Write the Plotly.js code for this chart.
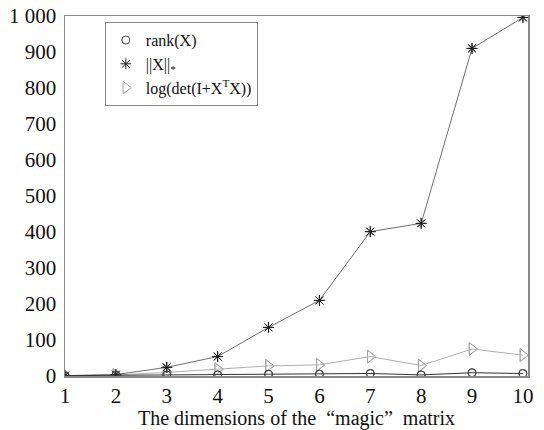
<!DOCTYPE html>
<html>
<head>
<meta charset="utf-8">
<script src="https://cdn.plot.ly/plotly-3.0.1.min.js"></script>
<style>html,body{margin:0;padding:0;background:#fff;}#chart{width:544px;height:430px;}</style>
</head>
<body>
<div id="chart"></div>
<script>
var dims = [1, 2, 3, 4, 5, 6, 7, 8, 9, 10];
var rankVals = [1, 2, 3, 3, 5, 5, 7, 3, 9, 7];
var nuclearVals = [1, 4, 24, 54, 135, 210, 401, 424, 910, 996];
var logdetVals = [0.5, 3, 10, 19, 28, 31, 54, 29, 75, 58];
var yTickVals = [0, 100, 200, 300, 400, 500, 600, 700, 800, 900, 1000];
var yTickText = ['0', '100', '200', '300', '400', '500', '600', '700', '800', '900', '1 000'];
var seriesNames = ['rank(X)', '||X||<sub>*</sub>', 'log(det(I+X<sup>T</sup>X))'];

var serif = 'Liberation Serif';

function pair(y, name, lineColor, markerColor, symbol, size) {
  return [
    {x: dims, y: y, type: 'scatter', mode: 'lines+markers', showlegend: false, hoverinfo: 'skip',
     line: {color: lineColor, width: 1},
     marker: {symbol: symbol, size: size, color: markerColor, line: {color: markerColor, width: 1}}},
    {x: dims, y: y, type: 'scatter', mode: 'markers', name: name,
     marker: {symbol: symbol, size: size, color: markerColor, line: {color: markerColor, width: 1}}}
  ];
}

var data = [].concat(
  pair(logdetVals, seriesNames[2], '#b0b0b0', '#a8a8a8', 'triangle-right-open', 11),
  pair(nuclearVals, seriesNames[1], '#707070', '#222222', 'asterisk-open', 9),
  pair(rankVals, seriesNames[0], '#333333', '#444444', 'circle-open', 8)
);
var legendOrder = [data[5], data[3], data[1]];
legendOrder.forEach(function(t, i){ t.legendrank = i + 1; });

var layout = {
  width: 544, height: 430,
  margin: {l: 65, r: 16, t: 16, b: 54},
  paper_bgcolor: '#ffffff', plot_bgcolor: '#ffffff',
  font: {family: serif, color: '#111', size: 18},
  xaxis: {
    range: [1, 10.1], tickvals: dims, ticks: '', showgrid: false, zeroline: false,
    showline: true, linecolor: '#8a8a8a', linewidth: 1.5, mirror: true,
    tickfont: {family: serif, size: 21, color: '#111'},
    title: {text: 'The dimensions of the\u00a0 \u201cmagic\u201d\u00a0 matrix', font: {family: serif, size: 20, color: '#111'}, standoff: 5}
  },
  yaxis: {
    range: [0, 1000], tickvals: yTickVals, ticktext: yTickText, ticks: '', showgrid: false, zeroline: false,
    showline: true, linecolor: '#8a8a8a', linewidth: 1.5, mirror: true,
    ticklabelstandoff: 3,
    tickfont: {family: serif, size: 21, color: '#111'}
  },
  legend: {
    x: 0.086, y: 0.983, xanchor: 'left', yanchor: 'top',
    bgcolor: '#ffffff', bordercolor: '#8a8a8a', borderwidth: 1,
    font: {family: serif, size: 16, color: '#111'},
    itemwidth: 30, tracegroupgap: 0
  },
  showlegend: true
};

Plotly.newPlot('chart', data, layout, {displayModeBar: false, staticPlot: true});
</script>
</body>
</html>
